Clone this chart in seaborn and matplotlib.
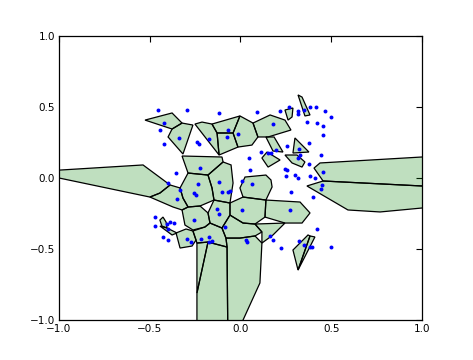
import matplotlib
matplotlib.use("Agg")
import matplotlib.pyplot as plt
import seaborn as sns
import pandas as pd

# ---- data: sample points ----
point_x = [-0.455, -0.295, -0.118, 0.091, -0.422, -0.444, -0.339, -0.422, -0.240, -0.229,
           -0.174, -0.069, -0.074, -0.014, 0.047, -0.223, 0.052, -0.355, -0.118, 0.008,
           -0.400, 0.218, 0.267, 0.317, 0.317, 0.350, 0.383, 0.416, 0.466, 0.499,
           0.179, 0.366, 0.422, 0.455, 0.455, 0.377, 0.256, 0.322, 0.196, 0.113,
           0.152, 0.168, 0.444, 0.317, 0.328, 0.377, 0.245, 0.256, 0.251, 0.300,
           0.383, 0.317, 0.410, 0.455, 0.063, 0.449, -0.058, 0.444, 0.278, 0.399,
           0.008, 0.273, 0.422, 0.030, 0.036, 0.163, 0.179, 0.223, 0.322, 0.350,
           0.383, 0.394, 0.499, -0.333, -0.350, -0.234, -0.256, -0.245, -0.102, -0.069,
           -0.129, -0.118, -0.256, -0.085, -0.471, -0.471, -0.405, -0.388, -0.366, -0.400,
           -0.427, -0.400, -0.295, -0.273, -0.218, -0.174, -0.174, -0.157]
point_y = [0.479, 0.479, 0.458, 0.465, 0.387, 0.338, 0.282, 0.239, 0.253, 0.239,
           0.275, 0.338, 0.289, 0.310, 0.141, 0.070, 0.056, 0.035, -0.028, -0.021,
           -0.035, 0.472, 0.500, 0.472, 0.451, 0.479, 0.500, 0.500, 0.472, 0.429,
           0.380, 0.394, 0.387, 0.366, 0.303, 0.246, 0.225, 0.204, 0.197, 0.183,
           0.176, 0.176, 0.162, 0.141, 0.162, 0.099, 0.063, 0.056, 0.014, 0.021,
           0.014, 0.000, 0.000, 0.042, -0.042, -0.049, -0.092, -0.077, -0.099, -0.134,
           -0.225, -0.225, -0.359, -0.437, -0.451, -0.408, -0.437, -0.493, -0.444, -0.472,
           -0.486, -0.486, -0.486, -0.084, -0.148, -0.042, -0.106, -0.120, -0.099, -0.099,
           -0.218, -0.253, -0.296, -0.345, -0.275, -0.338, -0.324, -0.310, -0.317, -0.359,
           -0.415, -0.437, -0.430, -0.451, -0.430, -0.415, -0.451, -0.444]

# ---- data: finite Voronoi cells (vertex x / vertex y) ----
cell_x = [
    [-1.16, -0.537, -0.388, -0.444, -0.499],
    [-0.526, -0.377, -0.322, -0.377],
    [-0.377, -0.322, -0.262, -0.317, -0.399],
    [-0.251, -0.212, -0.157, -0.129, -0.118],
    [-0.157, -0.003, -0.041, -0.129],
    [-0.129, -0.041, -0.014, -0.118],
    [-0.003, 0.069, 0.096, 0.063, -0.014, -0.041],
    [0.069, 0.163, 0.245, 0.278, 0.152, 0.096],
    [0.245, 0.289, 0.284, 0.262],
    [0.317, 0.339, 0.383, 0.355],
    [0.140, 0.185, 0.234, 0.179],
    [0.300, 0.377, 0.289],
    [0.118, 0.146, 0.218, 0.152],
    [0.245, 0.311, 0.355, 0.339, 0.284],
    [-0.322, -0.102, -0.096, -0.179, -0.289],
    [-0.179, -0.096, -0.052, -0.041, -0.058, -0.146, -0.157],
    [0.025, 0.140, 0.168, 0.174, 0.140, 0.014, -0.003],
    [-0.058, 0.014, 0.140, 0.135, 0.080, 0.014, -0.058],
    [0.140, 0.328, 0.383, 0.339, 0.245, 0.135],
    [0.438, 1.2, 1.2, 0.455, 0.405],
    [0.366, 0.455, 1.2, 1.2, 0.769, 0.592],
    [-0.322, -0.289, -0.223, -0.179, -0.168, -0.196, -0.262, -0.306],
    [-0.444, -0.427, -0.410, -0.405, -0.433],
    [-0.444, -0.405, -0.350, -0.377],
    [-0.355, -0.300, -0.262, -0.245, -0.267, -0.333],
    [-0.262, -0.196, -0.168, -0.102, -0.080, -0.074, -0.179, -0.240, -0.245],
    [-0.179, -0.146, -0.058, -0.058, -0.102, -0.168],
    [-0.333, -0.289, -0.179, -0.157, -0.146, -0.223, -0.289, -0.317],
    [-0.444, -0.388, -0.333, -0.317, -0.289, -0.322, -0.372, -0.499],
    [-0.058, 0.014, 0.080, 0.118, 0.080, -0.003, -0.080, -0.102],
    [0.080, 0.245, 0.179, 0.118, 0.118],
    [-0.240, -0.179, -0.240],
    [-0.240, -0.179, -0.074, -0.069, -0.240],
    [-0.074, -0.080, -0.003, 0.080, 0.118, 0.107, 0.014, -0.069],
    [0.289, 0.372, 0.383, 0.317],
    [0.383, 0.410, 0.317],
]
cell_y = [
    [0.043, 0.092, -0.049, -0.106, -0.134],
    [0.408, 0.458, 0.387, 0.345],
    [0.345, 0.387, 0.373, 0.169, 0.289],
    [0.380, 0.394, 0.380, 0.317, 0.162],
    [0.380, 0.437, 0.317, 0.317],
    [0.317, 0.317, 0.218, 0.162],
    [0.437, 0.387, 0.289, 0.232, 0.218, 0.317],
    [0.387, 0.444, 0.408, 0.338, 0.289, 0.289],
    [0.479, 0.493, 0.430, 0.408],
    [0.585, 0.570, 0.444, 0.437],
    [0.289, 0.289, 0.183, 0.190],
    [0.282, 0.183, 0.176],
    [0.141, 0.183, 0.127, 0.077],
    [0.162, 0.162, 0.113, 0.077, 0.106],
    [0.155, 0.148, 0.113, 0.021, 0.035],
    [0.021, 0.113, 0.092, -0.035, -0.176, -0.155, -0.070],
    [0.007, 0.021, -0.014, -0.063, -0.155, -0.134, -0.070],
    [-0.176, -0.134, -0.155, -0.275, -0.324, -0.317, -0.261],
    [-0.155, -0.169, -0.246, -0.317, -0.317, -0.275],
    [0.106, 0.163, -0.069, -0.021, 0.070],
    [-0.056, -0.021, -0.069, -0.187, -0.239, -0.225],
    [-0.225, -0.204, -0.197, -0.246, -0.317, -0.345, -0.366, -0.331],
    [-0.296, -0.275, -0.310, -0.352, -0.338],
    [-0.338, -0.352, -0.387, -0.401],
    [-0.387, -0.359, -0.373, -0.437, -0.479, -0.493],
    [-0.373, -0.345, -0.317, -0.352, -0.423, -0.486, -0.451, -0.458, -0.437],
    [-0.246, -0.155, -0.176, -0.261, -0.352, -0.317],
    [-0.070, 0.035, 0.021, -0.070, -0.155, -0.197, -0.204, -0.141],
    [-0.106, -0.049, -0.070, -0.141, -0.204, -0.225, -0.204, -0.134],
    [-0.261, -0.317, -0.324, -0.380, -0.408, -0.423, -0.423, -0.352],
    [-0.324, -0.317, -0.401, -0.458, -0.380],
    [-0.458, -0.451, -0.810],
    [-0.810, -0.451, -0.486, -1.233, -1.3],
    [-0.486, -0.423, -0.423, -0.408, -0.458, -0.739, -1.0, -1.233],
    [-0.507, -0.401, -0.408, -0.648],
    [-0.408, -0.415, -0.648],
]
tick_values = [-1.0, -0.5, 0.0, 0.5, 1.0]
tick_labels = ["\u22121.0", "\u22120.5", "0.0", "0.5", "1.0"]

sns.set_theme(style="white")
plt.rcParams["font.family"] = ["DejaVu Sans"]

fig = plt.figure(figsize=(4.73, 3.6), dpi=100)
ax = fig.add_axes([0.1247, 0.111, 0.7675, 0.789])

for xs, ys in zip(cell_x, cell_y):
    ax.fill(xs, ys, facecolor=(0.0, 0.5, 0.0, 0.25), edgecolor="black",
            linewidth=0.9, zorder=2)

pts = pd.DataFrame({"x": point_x, "y": point_y})
sns.scatterplot(data=pts, x="x", y="y", color="blue", s=8, linewidth=0,
                ax=ax, zorder=3)

ax.set_xlim(-1, 1)
ax.set_ylim(-1, 1)
ax.set_xticks(tick_values)
ax.set_xticklabels(tick_labels)
ax.set_yticks(tick_values)
ax.set_yticklabels(tick_labels)
ax.set_xlabel("")
ax.set_ylabel("")
ax.tick_params(direction="in", length=4, width=0.8, top=True, right=True,
               labelsize=7.5, colors="black", pad=3)
for s in ax.spines.values():
    s.set_color("black")
    s.set_linewidth(0.9)

fig.savefig("out.png", dpi=100)
